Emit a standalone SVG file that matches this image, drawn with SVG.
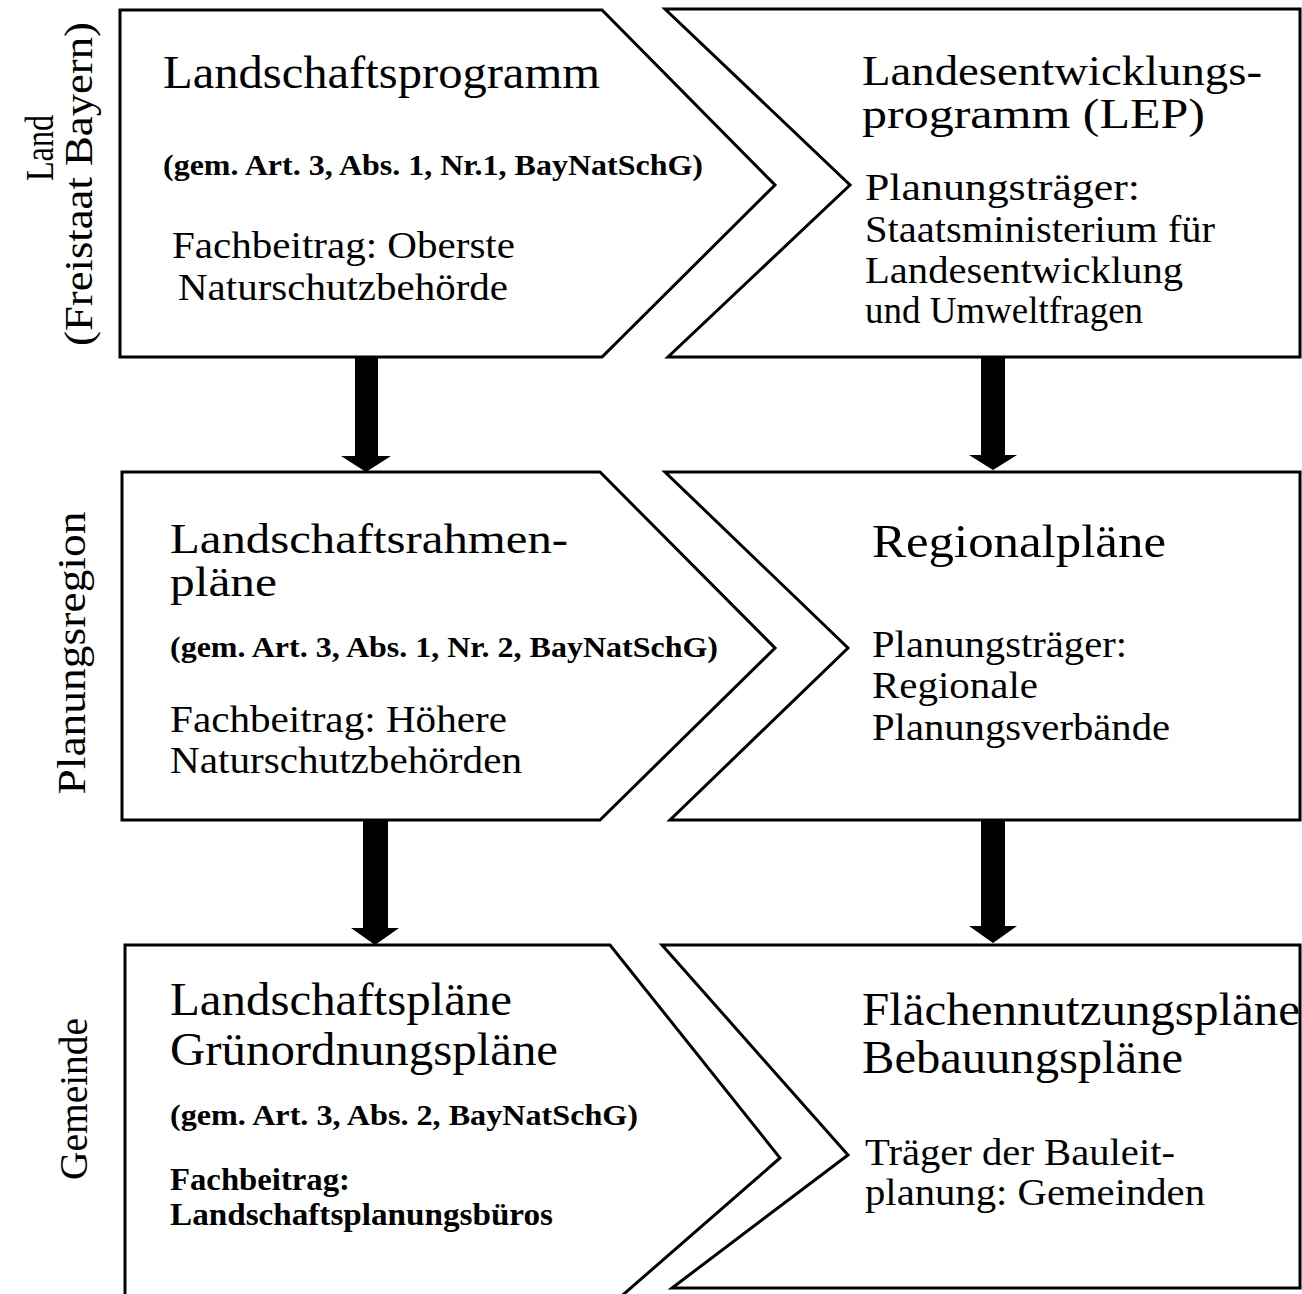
<svg xmlns="http://www.w3.org/2000/svg" width="1302" height="1294" viewBox="0 0 1302 1294">
<style>
.box{fill:#fff;stroke:#000;stroke-width:3;stroke-linejoin:miter}
.arr{fill:#000;stroke:none}
text{font-family:"Liberation Serif","Times New Roman",serif;fill:#000}
.t{font-size:46px}
.t2{font-size:42px}
.b{font-size:38px}
.s{font-size:30px;font-weight:bold}
.r3{font-size:46px}
.f3{font-size:32px;font-weight:bold}
.side{font-size:40px}
</style>
<rect width="1302" height="1294" fill="#fff"/>
<g id="side-labels">
<text class="side" transform="translate(53,148) rotate(-90)" text-anchor="middle" textLength="66" lengthAdjust="spacingAndGlyphs">Land</text>
<text class="side" transform="translate(92,184) rotate(-90)" text-anchor="middle" textLength="324" lengthAdjust="spacingAndGlyphs">(Freistaat Bayern)</text>
<text class="side" transform="translate(85,653) rotate(-90)" text-anchor="middle" textLength="283" lengthAdjust="spacingAndGlyphs">Planungsregion</text>
<text class="side" transform="translate(87,1099) rotate(-90)" text-anchor="middle" textLength="162" lengthAdjust="spacingAndGlyphs">Gemeinde</text>
</g>
<g id="connectors">
<polygon class="arr" points="355,357 378,357 378,456 391,456 366,472 341,456 355,456"/>
<polygon class="arr" points="981,357 1005,357 1005,455 1017,455 993,470 969,455 981,455"/>
<polygon class="arr" points="363,820 388,820 388,928 399,928 375,945 351,928 363,928"/>
<polygon class="arr" points="981,820 1005,820 1005,926 1017,926 993,943 969,926 981,926"/>
</g>
<g id="landschaftsprogramm">
<polygon class="box" points="120,10 602,10 775,185 602,357 120,357"/>
<text class="t" x="163" y="88" textLength="437" lengthAdjust="spacingAndGlyphs">Landschaftsprogramm</text>
<text class="s" x="163" y="175" textLength="540" lengthAdjust="spacingAndGlyphs">(gem. Art. 3, Abs. 1, Nr.1, BayNatSchG)</text>
<text class="b" x="172" y="258" textLength="343" lengthAdjust="spacingAndGlyphs">Fachbeitrag: Oberste</text>
<text class="b" x="178" y="300" textLength="330" lengthAdjust="spacingAndGlyphs">Naturschutzbehörde</text>
</g>
<g id="lep">
<polygon class="box" points="665,9 1300,9 1300,357 668,357 850,185"/>
<text class="t2" x="862" y="85" textLength="400" lengthAdjust="spacingAndGlyphs">Landesentwicklungs-</text>
<text class="t2" x="862" y="128" textLength="343" lengthAdjust="spacingAndGlyphs">programm  (LEP)</text>
<text class="b" x="865" y="200" textLength="275" lengthAdjust="spacingAndGlyphs">Planungsträger:</text>
<text class="b" x="865" y="242" textLength="350" lengthAdjust="spacingAndGlyphs">Staatsministerium für</text>
<text class="b" x="865" y="283" textLength="318" lengthAdjust="spacingAndGlyphs">Landesentwicklung</text>
<text class="b" x="865" y="323" textLength="278" lengthAdjust="spacingAndGlyphs">und Umweltfragen</text>
</g>
<g id="landschaftsrahmenplaene">
<polygon class="box" points="122,472 600,472 775,648 600,820 122,820"/>
<text class="t2" x="170" y="553" textLength="398" lengthAdjust="spacingAndGlyphs">Landschaftsrahmen-</text>
<text class="t2" x="170" y="596" textLength="107" lengthAdjust="spacingAndGlyphs">pläne</text>
<text class="s" x="170" y="657" textLength="548" lengthAdjust="spacingAndGlyphs">(gem. Art. 3, Abs. 1, Nr. 2, BayNatSchG)</text>
<text class="b" x="170" y="732" textLength="337" lengthAdjust="spacingAndGlyphs">Fachbeitrag: Höhere</text>
<text class="b" x="170" y="773" textLength="352" lengthAdjust="spacingAndGlyphs">Naturschutzbehörden</text>
</g>
<g id="regionalplaene">
<polygon class="box" points="665,472 1300,472 1300,820 670,820 848,648"/>
<text class="t" x="872" y="557" textLength="294" lengthAdjust="spacingAndGlyphs">Regionalpläne</text>
<text class="b" x="872" y="657" textLength="255" lengthAdjust="spacingAndGlyphs">Planungsträger:</text>
<text class="b" x="872" y="698" textLength="166" lengthAdjust="spacingAndGlyphs">Regionale</text>
<text class="b" x="872" y="740" textLength="298" lengthAdjust="spacingAndGlyphs">Planungsverbände</text>
</g>
<g id="landschaftsplaene">
<polyline class="box" points="125,1300 125,945 610,945 780,1158 617,1300"/>
<text class="r3" x="170" y="1015" textLength="342" lengthAdjust="spacingAndGlyphs">Landschaftspläne</text>
<text class="r3" x="170" y="1065" textLength="388" lengthAdjust="spacingAndGlyphs">Grünordnungspläne</text>
<text class="s" x="170" y="1125" textLength="468" lengthAdjust="spacingAndGlyphs">(gem. Art. 3, Abs. 2, BayNatSchG)</text>
<text class="f3" x="170" y="1190" textLength="180" lengthAdjust="spacingAndGlyphs">Fachbeitrag:</text>
<text class="f3" x="170" y="1225" textLength="383" lengthAdjust="spacingAndGlyphs">Landschaftsplanungsbüros</text>
</g>
<g id="flaechennutzungsplaene">
<polygon class="box" points="662,945 1300,945 1300,1288 672,1288 848,1155"/>
<text class="r3" x="862" y="1025" textLength="438" lengthAdjust="spacingAndGlyphs">Flächennutzungspläne</text>
<text class="r3" x="862" y="1073" textLength="321" lengthAdjust="spacingAndGlyphs">Bebauungspläne</text>
<text class="b" x="865" y="1165" textLength="310" lengthAdjust="spacingAndGlyphs">Träger der Bauleit-</text>
<text class="b" x="865" y="1205" textLength="340" lengthAdjust="spacingAndGlyphs">planung: Gemeinden</text>
</g>
</svg>
